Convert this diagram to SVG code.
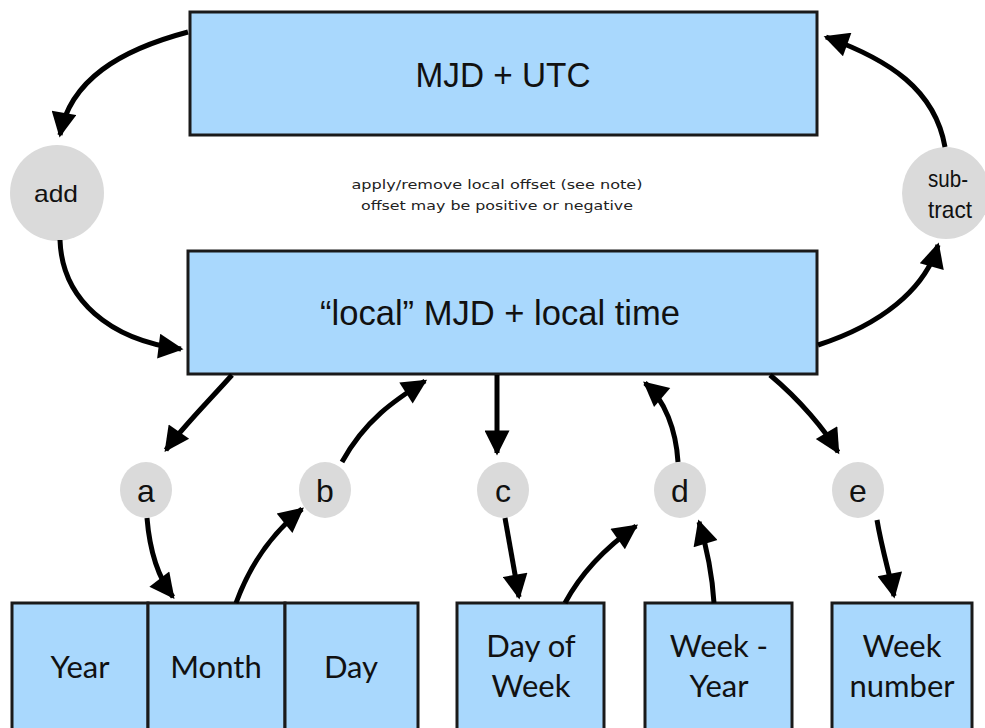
<svg xmlns="http://www.w3.org/2000/svg" width="985" height="728" viewBox="0 0 985 728">
<style>
.box{fill:#a9d8fd;stroke:#1a1a1a;stroke-width:3}
.circ{fill:#dadada}
.big{font-family:"Liberation Sans",Arial,sans-serif;font-size:35px;fill:#111;text-anchor:middle}
.lab{font-family:"Liberation Sans",Arial,sans-serif;font-size:32px;fill:#111;text-anchor:middle}
.gill{font-family:Lato,"Open Sans",sans-serif;font-size:31px;fill:#111;text-anchor:middle}
.note{font-family:"DejaVu Sans",sans-serif;font-size:12px;fill:#222;text-anchor:middle}
.sm{font-family:"Liberation Sans",Arial,sans-serif;font-size:24px;fill:#111;text-anchor:middle}
.con path{fill:none;stroke:#000;stroke-width:5;marker-end:url(#ah)}
</style>
<defs>
<marker id="ah" viewBox="0 0 10 10" refX="9" refY="5" markerWidth="5.6" markerHeight="5" orient="auto">
<polygon points="0,0 10,5 0,10" fill="#000"/>
</marker>
</defs>
<rect width="985" height="728" fill="#fff"/>
<g id="mjd-utc"><rect class="box" x="190" y="12" width="627" height="123"/><text class="big" x="503" y="87" textLength="175" lengthAdjust="spacingAndGlyphs">MJD + UTC</text></g>
<g id="note"><text class="note" x="497" y="189" textLength="291" lengthAdjust="spacingAndGlyphs">apply/remove local offset (see note)</text><text class="note" x="497" y="210" textLength="272" lengthAdjust="spacingAndGlyphs">offset may be positive or negative</text></g>
<g id="add"><ellipse class="circ" cx="57" cy="193" rx="47" ry="48"/><text class="sm" x="56" y="202" textLength="44" lengthAdjust="spacingAndGlyphs">add</text></g>
<g id="subtract"><ellipse class="circ" cx="946" cy="193" rx="44" ry="46"/><text class="sm" x="948" y="187" textLength="40" lengthAdjust="spacingAndGlyphs">sub-</text><text class="sm" x="950" y="218" textLength="44" lengthAdjust="spacingAndGlyphs">tract</text></g>
<g id="local"><rect class="box" x="188" y="251" width="629" height="123"/><text class="big" x="500" y="325" textLength="360" lengthAdjust="spacingAndGlyphs">“local” MJD + local time</text></g>
<g id="a"><ellipse class="circ" cx="146" cy="490" rx="26" ry="28"/><text class="lab" x="146" y="502">a</text></g>
<g id="b"><ellipse class="circ" cx="325" cy="490" rx="26" ry="28"/><text class="lab" x="325" y="502">b</text></g>
<g id="c"><ellipse class="circ" cx="503" cy="490" rx="26" ry="28"/><text class="lab" x="503" y="502">c</text></g>
<g id="d"><ellipse class="circ" cx="680" cy="490" rx="26" ry="28"/><text class="lab" x="680" y="502">d</text></g>
<g id="e"><ellipse class="circ" cx="858" cy="490" rx="26" ry="28"/><text class="lab" x="858" y="502">e</text></g>
<g id="year"><rect class="box" x="12" y="603" width="136" height="135"/><text class="gill" x="80" y="678">Year</text></g>
<g id="month"><rect class="box" x="148" y="603" width="137" height="135"/><text class="gill" x="216" y="678">Month</text></g>
<g id="day"><rect class="box" x="285" y="603" width="133" height="135"/><text class="gill" x="351" y="678">Day</text></g>
<g id="dow"><rect class="box" x="457" y="603" width="147" height="135"/><text class="gill" x="531" y="657">Day of</text><text class="gill" x="531" y="697">Week</text></g>
<g id="weekyear"><rect class="box" x="645" y="603" width="147" height="135"/><text class="gill" x="719" y="657">Week -</text><text class="gill" x="719" y="697">Year</text></g>
<g id="weeknum"><rect class="box" x="832" y="603" width="140" height="135"/><text class="gill" x="902" y="657">Week</text><text class="gill" x="902" y="697">number</text></g>
<g class="con" id="connectors">
<path d="M188,32 C120,50 70,80 60,135"/>
<path d="M60,240 C62,300 110,340 181,349"/>
<path d="M818,345 C880,325 925,290 938,245"/>
<path d="M945,147 C935,90 890,60 826,37"/>
<path d="M232,375 C205,405 180,430 166,450"/>
<path d="M342,462 C365,420 395,400 425,381"/>
<path d="M497,375 L497,453"/>
<path d="M678,462 C676,430 665,400 645,383"/>
<path d="M770,375 C800,400 825,430 838,452"/>
<path d="M147,518 C150,555 160,580 173,597"/>
<path d="M236,603 C250,565 270,535 302,509"/>
<path d="M505,518 L519,597"/>
<path d="M565,603 C580,575 605,548 636,526"/>
<path d="M714,603 C712,570 706,545 699,522"/>
<path d="M877,520 C882,550 890,575 894,596"/>
</g>
</svg>
